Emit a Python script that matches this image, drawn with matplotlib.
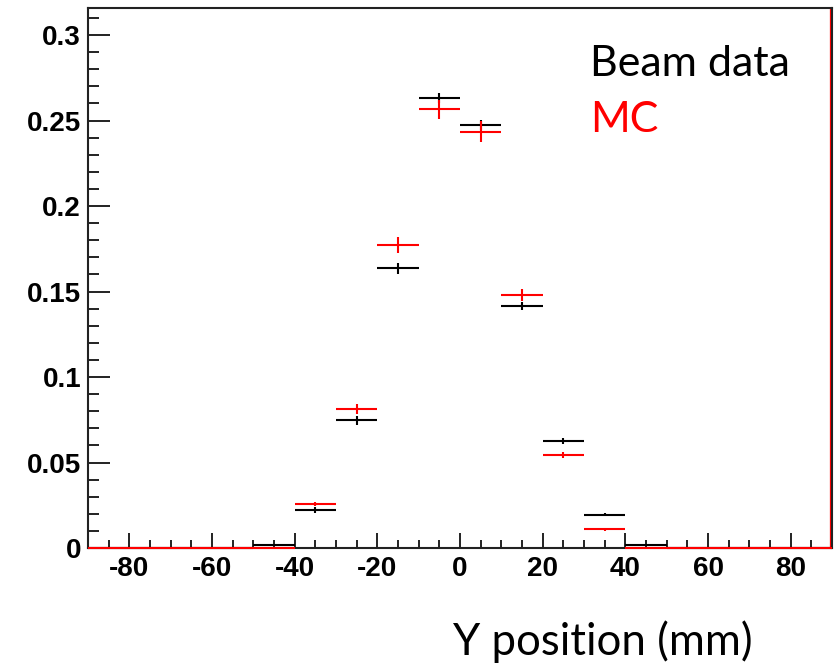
import numpy as np
import matplotlib.pyplot as plt
from matplotlib.ticker import MultipleLocator, FuncFormatter

plt.rcParams['axes.unicode_minus'] = False

# bin centres (mm), 10 mm bins from -90 to 90
centers = [-85, -75, -65, -55, -45, -35, -25, -15, -5, 5, 15, 25, 35, 45, 55, 65, 75, 85]
beam = [0, 0, 0, 0, 0.002, 0.0222, 0.0747, 0.1637, 0.2632, 0.2474, 0.1413, 0.0626, 0.0195, 0.0016, 0, 0, 0, 0]
beam_err = [0, 0, 0, 0, 0.0005, 0.0015, 0.0025, 0.0032, 0.0028, 0.0027, 0.0024, 0.0016, 0.001, 0.0004, 0, 0, 0, 0]
mc = [0, 0, 0, 0, 0, 0.0257, 0.0813, 0.1770, 0.2565, 0.2435, 0.1478, 0.0544, 0.0109, 0, 0, 0, 0, 0]
mc_err = [0, 0, 0, 0, 0, 0.001, 0.003, 0.0047, 0.0055, 0.006, 0.0035, 0.002, 0.001, 0, 0, 0, 0, 0]

W, H = 834, 667
fig = plt.figure(figsize=(W / 100, H / 100), dpi=100)
ax = fig.add_axes([88 / W, 1 - 548 / H, (832 - 88) / W, (548 - 8) / H])

for x, y, e, c in [(centers, beam, beam_err, 'black'), (centers, mc, mc_err, 'red')]:
    eb = ax.errorbar(x, y, xerr=5, yerr=e, fmt='none', ecolor=c, elinewidth=1.5, capsize=0, zorder=3)
    for coll in eb.lines[2]:
        coll.set_clip_on(False)
ax.axvline(89.55, color='red', lw=0.9, zorder=1)

ax.set_xlim(-90, 90)
ax.set_ylim(0, 0.3158)

ax.xaxis.set_major_locator(MultipleLocator(20))
ax.xaxis.set_minor_locator(MultipleLocator(5))
ax.yaxis.set_major_locator(MultipleLocator(0.05))
ax.yaxis.set_minor_locator(MultipleLocator(0.01))
ax.yaxis.set_major_formatter(FuncFormatter(lambda v, p: '0' if abs(v) < 1e-9 else '%g' % round(v, 3)))

ax.tick_params(axis='both', which='both', direction='in', width=1.4, colors='#222222')
ax.tick_params(axis='y', which='major', length=16, pad=5)
ax.tick_params(axis='y', which='minor', length=8)
ax.tick_params(axis='x', which='major', length=11, pad=6)
ax.tick_params(axis='x', which='minor', length=5.5)
for lab in ax.get_xticklabels() + ax.get_yticklabels():
    lab.set_fontfamily('Liberation Sans')
    lab.set_fontweight('bold')
    lab.set_fontsize(20)
    lab.set_color('black')
for sp in ax.spines.values():
    sp.set_linewidth(1.5)
    sp.set_color('#222222')

fig.text(590 / W, 1 - 76 / H, 'Beam data', fontsize=31, family='Lato', color='black', va='baseline')
fig.text(590 / W, 1 - 132 / H, 'MC', fontsize=31, family='Lato', color='red', va='baseline')
fig.text(453 / W, 1 - 655 / H, 'Y position (mm)', fontsize=31.5, family='Lato', color='black', va='baseline')

fig.savefig('out.png', dpi=100)
